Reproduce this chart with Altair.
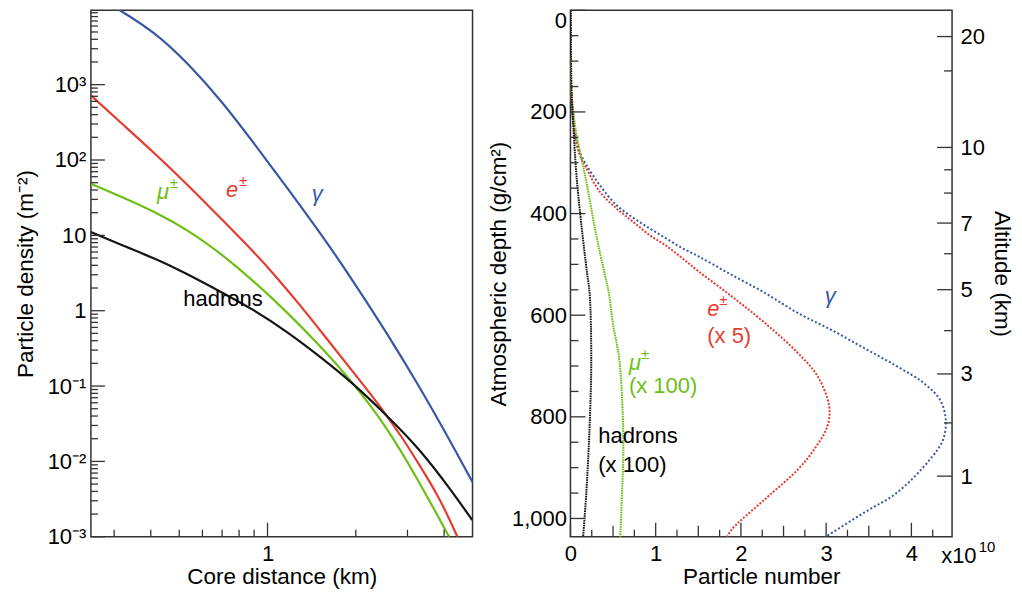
import altair as alt
import pandas as pd

FONT = "Liberation Sans"
BLUE, RED, GREEN, BLACK = "#3a56a6", "#e43d2f", "#6cbf16", "#151515"
AXC = "#333333"
W, H = 382, 527

# ---------------- left panel: lateral distribution ----------------
species = ["gamma", "e", "mu", "hadrons"]
colors = [BLUE, RED, GREEN, BLACK]

r_gamma = [0.30, 0.414, 0.537, 0.695, 0.902, 1.168, 1.514, 1.888, 2.544, 3.296, 4.27, 5.0]
rho_gamma = [10800, 4988, 1893, 619, 164, 42.7, 10.7, 3.09, 0.516, 0.0984, 0.0165, 0.00528]

r_e = [0.25, 0.319, 0.414, 0.537, 0.695, 0.902, 1.04, 1.296, 1.595, 1.963, 2.414, 2.897, 3.296, 3.75, 4.16, 4.44]
rho_e = [721, 303, 121, 46, 16.6, 5.9, 3.22, 1.17, 0.42, 0.152, 0.055, 0.0201, 0.00893, 0.00395, 0.00175, 0.001]

r_mu = [0.25, 0.319, 0.414, 0.537, 0.695, 0.902, 1.168, 1.514, 1.91, 2.544, 3.296, 4.16]
rho_mu = [48.5, 32.3, 20.4, 11.7, 5.72, 2.42, 0.953, 0.338, 0.124, 0.0295, 0.0053, 0.001]

r_had = [0.25, 0.319, 0.414, 0.516, 0.695, 0.902, 1.168, 1.514, 1.963, 2.544, 3.296, 4.27, 4.99]
rho_had = [11.1, 7.39, 4.91, 3.27, 1.77, 1.02, 0.524, 0.244, 0.108, 0.0411, 0.0148, 0.00395, 0.00166]

left_y_major = [1e-3, 1e-2, 1e-1, 1, 10, 100, 1000]
left_y_labels = ["10⁻³", "10⁻²", "10⁻¹", "1", "10", "10²", "10³"]
left_y_minor = [k * 10.0 ** e for e in range(-3, 4) for k in range(2, 10)]
left_x_major = [1]
left_x_minor = [0.3, 0.4, 0.5, 0.6, 0.7, 0.8, 0.9, 2, 3, 4]

# ---------------- right panel: longitudinal development ----------------
d_gamma = [160, 238.5, 277.8, 304, 343.4, 382.7, 407.5, 428.5, 448.2, 467.9, 484.2, 517, 556, 595.6, 628.5,
           664.4, 700.4, 733, 766, 805.4, 844.7, 884, 949.5, 988.8, 1038]
n_gamma = [0.0, 0.05, 0.108, 0.186, 0.341, 0.535, 0.729, 0.922, 1.116, 1.31, 1.503, 1.852, 2.279, 2.666, 3.055,
           3.442, 3.829, 4.14, 4.334, 4.403, 4.372, 4.217, 3.829, 3.442, 2.977]

d_e = [140, 245, 284.4, 310.6, 356.4, 389.2, 415.4, 441.7, 462.6, 487.5, 513.7, 563, 615, 674, 720, 779, 818,
       864, 904, 962.6, 1021.6, 1038]
n_e = [0.0, 0.05, 0.108, 0.186, 0.341, 0.535, 0.729, 0.922, 1.116, 1.31, 1.503, 1.892, 2.279, 2.666, 2.899,
       3.035, 3.015, 2.86, 2.666, 2.279, 1.892, 1.834]

d_mu = [90, 150, 193, 245, 291, 337, 442, 517, 556, 615, 687, 792, 877, 950, 1038]
n_mu = [0.0, 0.005, 0.03, 0.07, 0.128, 0.186, 0.302, 0.399, 0.45, 0.497, 0.573, 0.613, 0.620, 0.605, 0.585]

d_had = [0, 150, 245, 324, 422, 517, 556, 687, 818, 950, 1038]
n_had = [0.005, 0.012, 0.04, 0.07, 0.128, 0.195, 0.225, 0.244, 0.225, 0.186, 0.148]

depth_major = [0, 200, 400, 600, 800, 1000]
depth_minor = [v for v in range(50, 1036, 50) if v % 200 != 0]
num_major = [0, 1, 2, 3, 4]
num_half = [0.5, 1.5, 2.5, 3.5]
num_quarter = [0.25, 0.75, 1.25, 1.75, 2.25, 2.75, 3.25, 3.75, 4.25]

alt_labels = ["20", "10", "7", "5", "3", "1"]
alt_depth = [51.7, 269.9, 418.7, 549.8, 715.6, 916.7]
alt_minor_depth = [119.3, 313.9, 359.7, 479.0, 630.4, 811.9]

# ---------------- scales ----------------
xs_left = alt.Scale(type="log", domain=[0.25, 5], nice=False)
ys_left = alt.Scale(type="log", domain=[1e-3, 9700], nice=False)
xs_right = alt.Scale(domain=[0, 4.477], nice=False, zero=False)
ys_right = alt.Scale(domain=[0, 1036], nice=False, zero=False, reverse=True)


def long_df(series):
    rows = []
    for name, xs, ys in series:
        for a, b in zip(xs, ys):
            rows.append({"sp": name, "a": a, "b": b})
    return pd.DataFrame(rows)


def vrules(vals, xscale, yscale, side, length):
    df = pd.DataFrame({"v": vals})
    base = alt.Chart(df).mark_rule(color=AXC, strokeWidth=1.3)
    if side == "left":
        return base.encode(y=alt.Y("v:Q", scale=yscale, axis=None), x=alt.value(0), x2=alt.value(length))
    if side == "right":
        return base.encode(y=alt.Y("v:Q", scale=yscale, axis=None), x=alt.value(W), x2=alt.value(W - length))
    return base.encode(x=alt.X("v:Q", scale=xscale, axis=None), y=alt.value(H), y2=alt.value(H - length))


def label(text, x, y, xscale, yscale, color, size=22, italic=False, align="center", dx=0, dy=0):
    df = pd.DataFrame({"t": [text], "x": [x], "y": [y]})
    return alt.Chart(df).mark_text(
        font=FONT, fontSize=size, color=color, align=align, baseline="middle",
        fontStyle="italic" if italic else "normal", dx=dx, dy=dy
    ).encode(
        x=alt.X("x:Q", scale=xscale, axis=None),
        y=alt.Y("y:Q", scale=yscale, axis=None),
        text="t:N",
    )


# ---------------- left chart ----------------
df_left = long_df([("gamma", r_gamma, rho_gamma), ("e", r_e, rho_e), ("mu", r_mu, rho_mu), ("hadrons", r_had, rho_had)])

left_labelexpr = "[" + ",".join("'%s'" % s for s in left_y_labels) + "][round(log(datum.value)/LN10)+3]"

left_lines = alt.Chart(df_left).mark_line(strokeWidth=2.2, clip=True, interpolate="basis").encode(
    x=alt.X("a:Q", scale=xs_left,
            axis=alt.Axis(values=left_x_major, format="~g", title="Core distance (km)",
                          labelFlush=False, labelPadding=7, titlePadding=1)),
    y=alt.Y("b:Q", scale=ys_left,
            axis=alt.Axis(values=left_y_major, labelExpr=left_labelexpr, title="Particle density (m⁻²)",
                          labelPadding=5, titlePadding=10, labelOverlap=False)),
    color=alt.Color("sp:N", scale=alt.Scale(domain=species, range=colors), legend=None),
)

left = alt.layer(
    left_lines,
    vrules(left_y_major, xs_left, ys_left, "left", 14),
    vrules(left_y_minor, xs_left, ys_left, "left", 7),
    vrules(left_x_major, xs_left, ys_left, "bottom", 14),
    vrules(left_x_minor, xs_left, ys_left, "bottom", 7),
    label("μ", 0.44, 37.6, xs_left, ys_left, GREEN, italic=True),
    label("±", 0.44, 37.6, xs_left, ys_left, GREEN, size=15, dx=11, dy=-9),
    label("e", 0.757, 40, xs_left, ys_left, RED, italic=True),
    label("±", 0.757, 40, xs_left, ys_left, RED, size=15, dx=11, dy=-9),
    label("γ", 1.476, 35.4, xs_left, ys_left, BLUE, italic=True),
    label("hadrons", 0.705, 1.434, xs_left, ys_left, "black"),
).resolve_axis(x="independent", y="independent").properties(width=W, height=H)

# ---------------- right chart ----------------
df_right = long_df([("gamma", n_gamma, d_gamma), ("e", n_e, d_e), ("mu", n_mu, d_mu), ("hadrons", n_had, d_had)])

right_lines = alt.Chart(df_right).mark_line(strokeWidth=2, clip=True, strokeCap="butt",
                                            interpolate="catmull-rom").encode(
    x=alt.X("a:Q", scale=xs_right,
            axis=alt.Axis(values=num_major, title="Particle number", labelFlush=False,
                          labelPadding=7, titlePadding=1)),
    y=alt.Y("b:Q", scale=ys_right,
            axis=alt.Axis(values=depth_major, format=",d", title="Atmospheric depth (g/cm²)",
                          labelFlush=True, labelPadding=4, titlePadding=1, labelOverlap=False)),
    color=alt.Color("sp:N", scale=alt.Scale(domain=species, range=colors), legend=None),
    strokeDash=alt.StrokeDash("sp:N", scale=alt.Scale(domain=species,
                              range=[[2, 2.2], [2, 1.6], [1.6, 0.8], [1.6, 0.8]]), legend=None),
    order=alt.Order("b:Q"),
)

sorted_pairs = sorted(zip(alt_depth, alt_labels))
expr = "''"
for i in range(len(sorted_pairs) - 1, -1, -1):
    dval, lab = sorted_pairs[i]
    if i == len(sorted_pairs) - 1:
        expr = "'%s'" % lab
    else:
        mid = (dval + sorted_pairs[i + 1][0]) / 2
        expr = "datum.value < %g ? '%s' : (%s)" % (mid, lab, expr)

alt_axis_layer = alt.Chart(pd.DataFrame({"v": alt_depth})).mark_rule(color=AXC, strokeWidth=1.3).encode(
    y=alt.Y("v:Q", scale=ys_right,
            axis=alt.Axis(orient="right", values=alt_depth, labelExpr=expr, title="Altitude (km)",
                          labelPadding=8, titlePadding=5, labelOverlap=False, labelFlush=False)),
    x=alt.value(W), x2=alt.value(W - 15),
)

right = alt.layer(
    right_lines,
    alt_axis_layer,
    vrules(alt_minor_depth, xs_right, ys_right, "right", 8),
    vrules(depth_major, xs_right, ys_right, "left", 15),
    vrules(depth_minor, xs_right, ys_right, "left", 8),
    vrules(num_major, xs_right, ys_right, "bottom", 14),
    vrules(num_half, xs_right, ys_right, "bottom", 11),
    vrules(num_quarter, xs_right, ys_right, "bottom", 7),
    label("γ", 3.047, 562, xs_right, ys_right, BLUE, italic=True),
    label("e", 1.605, 588, xs_right, ys_right, RED, italic=True, align="left"),
    label("±", 1.605, 588, xs_right, ys_right, RED, size=15, align="left", dx=12, dy=-9),
    label("(x 5)", 1.605, 641, xs_right, ys_right, RED, align="left"),
    label("μ", 0.686, 694, xs_right, ys_right, GREEN, italic=True, align="left"),
    label("±", 0.686, 694, xs_right, ys_right, GREEN, size=15, align="left", dx=12, dy=-9),
    label("(x 100)", 0.686, 740, xs_right, ys_right, GREEN, align="left"),
    label("hadrons", 0.326, 837, xs_right, ys_right, "black", align="left"),
    label("(x 100)", 0.326, 894, xs_right, ys_right, "black", align="left"),
    label("x10", 4.349, 1073, xs_right, ys_right, "black", size=22, align="left"),
    label("10", 4.79, 1056, xs_right, ys_right, "black", size=15, align="left"),
).resolve_axis(x="independent", y="independent").properties(width=W, height=H)

chart = alt.hconcat(left, right, spacing=13).properties(
    padding={"left": 5, "top": 0, "right": 0, "bottom": 0}
).configure_axis(
    labelFont=FONT, titleFont=FONT, labelFontSize=22, titleFontSize=22.5, titleFontWeight="normal",
    labelColor="black", titleColor="black", ticks=False, domain=False, grid=False,
).configure_view(stroke=AXC, strokeWidth=1.5)

chart.save("out.html", embed_options={"renderer": "svg", "actions": False})
